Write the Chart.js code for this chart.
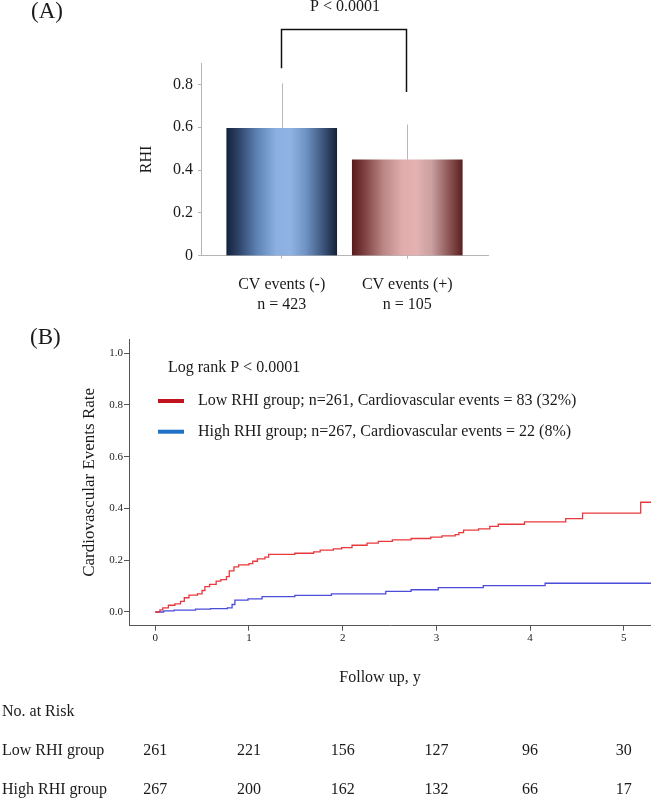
<!DOCTYPE html>
<html>
<head>
<meta charset="utf-8">
<title>RHI and cardiovascular events</title>
<script src="https://cdn.jsdelivr.net/npm/chart.js@4.4.1/dist/chart.umd.min.js"></script>
<style>
  body { margin: 0; background: #fff; }
  #wrap { position: relative; width: 651px; height: 798px; overflow: hidden; }
  canvas { position: absolute; left: 0; }
  #chartA { top: 0; }
  #chartB { top: 320px; }
</style>
</head>
<body>
<div id="wrap">
  <canvas id="chartA" width="651" height="320"></canvas>
  <canvas id="chartB" width="651" height="478"></canvas>
</div>
<script>
// ---------- panel A: RHI by CV events
var groups = ["CV events (-)", "CV events (+)"];
var groupN = ["n = 423", "n = 105"];
var rhiMean = [0.595, 0.448];
var rhiSD = [0.21, 0.165];
var rhiTicks = [0, 0.1, 0.2, 0.3, 0.4, 0.5, 0.6, 0.7, 0.8, 0.9];
var rhiTickLabels = ["0", "", "0.2", "", "0.4", "", "0.6", "", "0.8", ""];
var pText = "P < 0.0001";

// ---------- panel B: cumulative CV event rate (Kaplan-Meier)
var lowT = [0, 0.05, 0.08, 0.14, 0.21, 0.27, 0.31, 0.36, 0.45, 0.50, 0.53, 0.58, 0.65, 0.70, 0.76,
  0.79, 0.84, 0.89, 1.00, 1.04, 1.09, 1.17, 1.21, 1.49, 1.69, 1.76, 1.90, 1.99, 2.10, 2.26,
  2.38, 2.53, 2.73, 2.94, 3.06, 3.20, 3.24, 3.29, 3.45, 3.57, 3.66, 3.94, 4.38, 4.56, 5.18, 5.3];
var lowRate = [0, 0.008, 0.016, 0.026, 0.031, 0.041, 0.055, 0.065, 0.070, 0.083, 0.098, 0.107, 0.119, 0.125, 0.137,
  0.159, 0.174, 0.182, 0.187, 0.196, 0.205, 0.212, 0.223, 0.227, 0.232, 0.239, 0.244, 0.249, 0.258, 0.266,
  0.273, 0.279, 0.284, 0.289, 0.294, 0.299, 0.307, 0.316, 0.321, 0.331, 0.339, 0.348, 0.361, 0.382, 0.424, 0.424];
var highT = [0, 0.09, 0.20, 0.43, 0.59, 0.77, 0.82, 0.85, 0.99, 1.14, 1.49, 1.88, 2.46, 2.73, 3.02, 3.50, 4.16, 5.3];
var highRate = [0, 0.004, 0.007, 0.011, 0.013, 0.016, 0.029, 0.046, 0.051, 0.059, 0.064, 0.070, 0.080, 0.086, 0.094, 0.102, 0.111, 0.111];
var yearTicks = [0, 1, 2, 3, 4, 5];
var rateTicks = [0, 0.2, 0.4, 0.6, 0.8, 1.0];
var legendLabels = ["Low RHI group; n=261, Cardiovascular events = 83 (32%)",
  "High RHI group; n=267, Cardiovascular events = 22 (8%)"];
var logRankText = "Log rank P < 0.0001";
var riskGroups = ["Low RHI group", "High RHI group"];
var riskLow = [261, 221, 156, 127, 96, 30];
var riskHigh = [267, 200, 162, 132, 66, 17];

var serif = '"Liberation Serif", "Times New Roman", serif';
Chart.defaults.font.family = serif;
Chart.defaults.color = "#1a1a1a";

// bar shading, dark edges and light middle
var blueStops = [[0, "#15243d"], [0.1, "#2b4064"], [0.28, "#5e84b7"], [0.45, "#8bb0e1"], [0.58, "#8fb3e3"], [0.72, "#6f93c4"], [0.87, "#3e587f"], [1, "#14223a"]];
var redStops = [[0, "#5a1c1c"], [0.1, "#7a3c3c"], [0.28, "#bb8585"], [0.45, "#e0abab"], [0.58, "#e4b2b2"], [0.72, "#caa0a0"], [0.87, "#8f5a5a"], [1, "#5c2020"]];

function barFill(c) {
  var chart = c.chart;
  if (!chart.chartArea || c.dataIndex === undefined) return "#8fb3e3";
  var cx = chart.scales.x.getPixelForValue(c.dataIndex);
  var g = chart.ctx.createLinearGradient(cx - 55, 0, cx + 55, 0);
  var stops = c.dataIndex === 0 ? blueStops : redStops;
  stops.forEach(function (s) { g.addColorStop(s[0], s[1]); });
  return g;
}

var panelAExtras = {
  id: "panelAExtras",
  afterDatasetsDraw: function (chart) {
    var ctx = chart.ctx, xs = chart.scales.x, ys = chart.scales.y;
    ctx.save();
    // upper error bars
    ctx.strokeStyle = "#b8b8b8";
    ctx.lineWidth = 1;
    for (var i = 0; i < rhiMean.length; i++) {
      var x = Math.round(xs.getPixelForValue(i)) + 0.5;
      ctx.beginPath();
      ctx.moveTo(x, ys.getPixelForValue(rhiMean[i]));
      ctx.lineTo(x, ys.getPixelForValue(rhiMean[i] + rhiSD[i]));
      ctx.stroke();
    }
    // significance bracket
    var x0 = Math.round(xs.getPixelForValue(0)) - 0.5;
    var x1 = Math.round(xs.getPixelForValue(1)) - 0.5;
    var top = Math.round(ys.getPixelForValue(1.057)) + 0.5;
    ctx.strokeStyle = "#111";
    ctx.lineWidth = 1.5;
    ctx.beginPath();
    ctx.moveTo(x0, ys.getPixelForValue(0.875));
    ctx.lineTo(x0, top);
    ctx.lineTo(x1, top);
    ctx.lineTo(x1, ys.getPixelForValue(0.765));
    ctx.stroke();
    ctx.fillStyle = "#1a1a1a";
    ctx.textBaseline = "middle";
    ctx.textAlign = "center";
    ctx.font = "16px " + serif;
    ctx.fillText(pText, (x0 + x1) / 2 + 1, 7);
    ctx.textAlign = "left";
    ctx.font = "23px " + serif;
    ctx.fillText("(A)", 31, 12);
    ctx.restore();
  }
};

new Chart(document.getElementById("chartA"), {
  type: "bar",
  data: {
    datasets: [{
      data: rhiMean.map(function (v, i) { return { x: i, y: v }; }),
      backgroundColor: barFill,
      borderWidth: 0,
      barThickness: 110
    }]
  },
  options: {
    responsive: false,
    animation: false,
    layout: { padding: { top: 63, right: 163, left: 0, bottom: 0 } },
    plugins: { legend: { display: false }, tooltip: { enabled: false } },
    scales: {
      x: {
        type: "linear",
        offset: false,
        min: -0.643,
        max: 1.643,
        afterBuildTicks: function (s) { s.ticks = groups.map(function (g, i) { return { value: i }; }); },
        afterFit: function (s) { s.height = 64.3; },
        ticks: {
          font: { size: 16, lineHeight: 1.25 },
          padding: 16,
          maxRotation: 0,
          callback: function (v) { return [groups[v], groupN[v]]; }
        },
        grid: { offset: false, drawOnChartArea: false, tickLength: 3, color: "#b5b5b5" },
        border: { color: "#b5b5b5" }
      },
      y: {
        min: 0,
        max: 0.9,
        afterBuildTicks: function (s) { s.ticks = rhiTicks.map(function (v) { return { value: v }; }); },
        afterFit: function (s) { s.width = 201; },
        ticks: {
          font: { size: 16 },
          padding: 5,
          callback: function (v, i) { return rhiTickLabels[i]; }
        },
        grid: { drawOnChartArea: false, tickLength: 3, color: "#b5b5b5" },
        border: { color: "#b5b5b5" },
        title: { display: true, text: "RHI", font: { size: 16 }, padding: { top: 137, bottom: 0 } }
      }
    }
  },
  plugins: [panelAExtras]
});

var panelBExtras = {
  id: "panelBExtras",
  afterDraw: function (chart) {
    var ctx = chart.ctx, xs = chart.scales.x;
    var colors = ["#c0151d", "#1f72c6"];
    ctx.save();
    ctx.fillStyle = "#1a1a1a";
    ctx.textBaseline = "middle";
    ctx.textAlign = "left";
    ctx.font = "23px " + serif;
    ctx.fillText("(B)", 30, 18);
    ctx.font = "16px " + serif;
    ctx.fillText(logRankText, 168, 48);
    for (var i = 0; i < legendLabels.length; i++) {
      var y = 81 + i * 30.7;
      ctx.strokeStyle = colors[i];
      ctx.lineWidth = 4;
      ctx.beginPath();
      ctx.moveTo(158, y);
      ctx.lineTo(184, y);
      ctx.stroke();
      ctx.fillText(legendLabels[i], 198, y);
    }
    // axis title
    ctx.textAlign = "center";
    ctx.fillText("Follow up, y", 380, 358);
    // numbers at risk
    ctx.textAlign = "left";
    ctx.fillText("No. at Risk", 2, 392);
    var rows = [riskLow, riskHigh];
    for (var r = 0; r < rows.length; r++) {
      var ry = 431 + r * 39;
      ctx.textAlign = "left";
      ctx.fillText(riskGroups[r], 2, ry);
      ctx.textAlign = "center";
      for (var j = 0; j < yearTicks.length; j++) {
        ctx.fillText(String(rows[r][j]), xs.getPixelForValue(yearTicks[j]), ry);
      }
    }
    ctx.restore();
  }
};

new Chart(document.getElementById("chartB"), {
  type: "line",
  data: {
    datasets: [
      {
        label: riskGroups[0],
        data: lowT.map(function (t, i) { return { x: t, y: lowRate[i] }; }),
        borderColor: "#e8383d",
        borderWidth: 1.3,
        stepped: true,
        pointRadius: 0,
        fill: false
      },
      {
        label: riskGroups[1],
        data: highT.map(function (t, i) { return { x: t, y: highRate[i] }; }),
        borderColor: "#4b4bdc",
        borderWidth: 1.3,
        stepped: true,
        pointRadius: 0,
        fill: false
      }
    ]
  },
  options: {
    responsive: false,
    animation: false,
    layout: { padding: { top: 19, right: 0, left: 0, bottom: 0 } },
    plugins: { legend: { display: false }, tooltip: { enabled: false } },
    scales: {
      x: {
        type: "linear",
        min: -0.28,
        max: 5.29,
        afterBuildTicks: function (s) { s.ticks = yearTicks.map(function (v) { return { value: v }; }); },
        afterFit: function (s) { s.height = 172.3; },
        ticks: { font: { size: 11 }, padding: 1, maxRotation: 0, callback: function (v) { return String(v); } },
        grid: { drawOnChartArea: false, tickLength: 5, color: "#555" },
        border: { color: "#555" }
      },
      y: {
        min: -0.053,
        max: 1.055,
        afterBuildTicks: function (s) { s.ticks = rateTicks.map(function (v) { return { value: v }; }); },
        afterFit: function (s) { s.width = 129; },
        ticks: { font: { size: 11 }, padding: 1, callback: function (v) { return v.toFixed(1); } },
        grid: { drawOnChartArea: false, tickLength: 5, color: "#555" },
        border: { color: "#555" },
        title: { display: true, text: "Cardiovascular Events Rate", font: { size: 17 }, padding: { top: 79, bottom: 0 } }
      }
    }
  },
  plugins: [panelBExtras]
});
</script>
</body>
</html>
